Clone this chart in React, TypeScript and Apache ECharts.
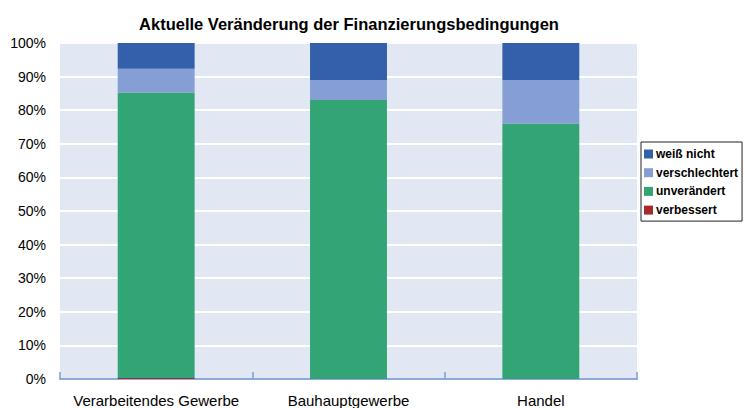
import React, { useEffect, useRef } from "react";
import * as echarts from "echarts";

const categories = ["Verarbeitendes Gewerbe", "Bauhauptgewerbe", "Handel"];
const verbessert = [0.3, 0, 0];
const unveraendert = [85, 83, 76];
const verschlechtert = [7, 6, 13];
const weissNicht = [8, 11, 11];
const yTicks = [0, 10, 20, 30, 40, 50, 60, 70, 80, 90, 100];

export default function App() {
  const ref = useRef<HTMLDivElement>(null);
  useEffect(() => {
    const chart = echarts.init(ref.current!, null, { renderer: "svg" });
    const font = "'Liberation Sans', Arial, sans-serif";
    const mk = (name: string, data: number[], color: string) => ({
      name,
      type: "bar",
      stack: "total",
      data,
      barWidth: "40%",
      itemStyle: { color },
    });
    chart.setOption({
      animation: false,
      backgroundColor: "#ffffff",
      title: {
        text: "Aktuelle Veränderung der Finanzierungsbedingungen",
        left: 344,
        textAlign: "center",
        top: 10,
        textStyle: { fontFamily: font, fontSize: 16.5, fontWeight: "bold", color: "#000" },
      },
      graphic: [
        {
          type: "line",
          shape: { x1: 262, y1: 1, x2: 668, y2: 1 },
          style: {
            lineWidth: 2,
            stroke: new echarts.graphic.LinearGradient(0, 0, 1, 0, [
              { offset: 0, color: "#f2f2f2" },
              { offset: 1, color: "#808080" },
            ]),
          },
        },
      ],
      legend: {
        orient: "vertical",
        left: 641,
        top: 142,
        padding: [5, 4, 4, 3],
        borderColor: "#222",
        borderWidth: 1,
        itemWidth: 9,
        itemHeight: 9,
        itemGap: 4.7,
        icon: "rect",
        data: ["weiß nicht", "verschlechtert", "unverändert", "verbessert"],
        textStyle: { fontFamily: font, fontSize: 12, fontWeight: "bold", color: "#000", lineHeight: 14, padding: [0, 0, 0, -2] },
      },
      grid: {
        left: 60,
        right: 108,
        top: 43,
        bottom: 29,
        show: true,
        backgroundColor: "#E1E8F4",
        borderWidth: 0,
      },
      xAxis: {
        type: "category",
        data: categories,
        axisLine: { lineStyle: { color: "#8EA9DB", width: 2 } },
        axisTick: { show: true, interval: 0, inside: true, length: 7, lineStyle: { color: "#7F9BD3", width: 1.5 } },
        axisLabel: { interval: 0, fontFamily: font, fontSize: 15, color: "#000", margin: 14 },
      },
      yAxis: {
        type: "value",
        min: 0,
        max: 100,
        interval: 10,
        axisLine: { show: false },
        axisTick: { show: false },
        axisLabel: {
          fontFamily: font,
          fontSize: 14,
          color: "#000",
          margin: 14,
          formatter: (v: number) => (yTicks.includes(v) ? v + "%" : ""),
        },
        splitLine: { lineStyle: { color: "#ffffff", width: 2 } },
      },
      series: [
        mk("verbessert", verbessert, "#A52A2A"),
        mk("unverändert", unveraendert, "#33A575"),
        mk("verschlechtert", verschlechtert, "#859FD5"),
        mk("weiß nicht", weissNicht, "#3460AB"),
      ],
    });
    return () => chart.dispose();
  }, []);
  return <div ref={ref} style={{ width: 745, height: 408, position: "absolute", left: 0, top: 0 }} />;
}
